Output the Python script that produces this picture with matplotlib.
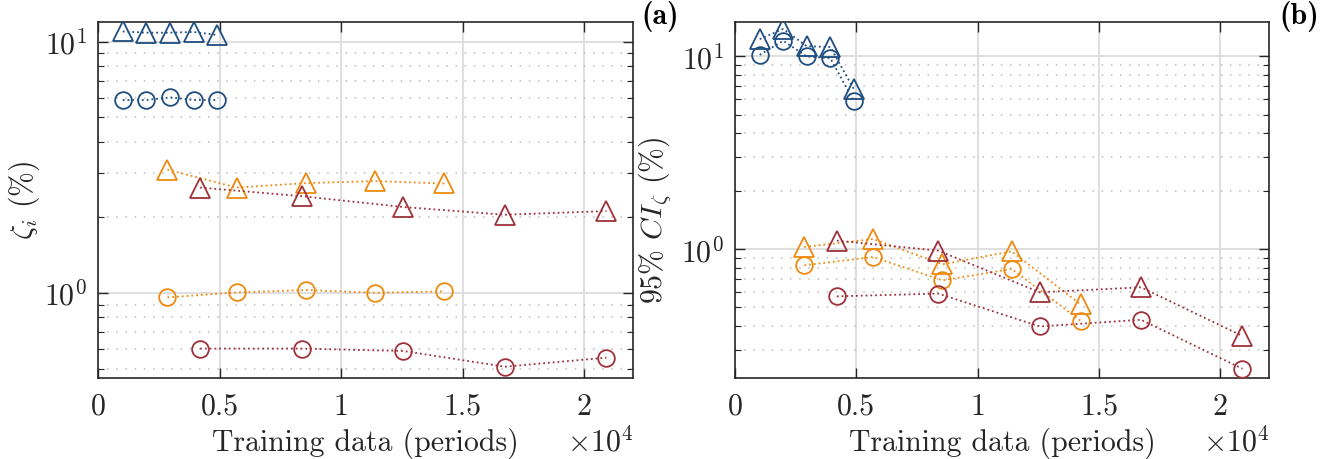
import matplotlib
matplotlib.use('Agg')
import matplotlib.pyplot as plt
from matplotlib.ticker import LogLocator, FixedLocator, FuncFormatter, NullFormatter

plt.rcParams['font.family'] = 'serif'
plt.rcParams['font.serif'] = ['cmr10']
plt.rcParams['mathtext.fontset'] = 'cm'
plt.rcParams['axes.formatter.use_mathtext'] = True

# training data sizes (periods)
x_blue = [1020, 1990, 2960, 3930, 4890]
x_orange = [2860, 5700, 8550, 11400, 14240]
x_red = [4200, 8380, 12560, 16730, 20910]

# (a) damping estimates zeta_i (%)
a_blue_tri = [11.0, 10.88, 10.88, 10.95, 10.66]
a_blue_circ = [5.87, 5.87, 6.01, 5.87, 5.87]
a_orange_tri = [3.10, 2.63, 2.74, 2.79, 2.73]
a_orange_circ = [0.961, 1.006, 1.028, 1.003, 1.015]
a_red_tri = [2.63, 2.43, 2.20, 2.05, 2.12]
a_red_circ = [0.601, 0.601, 0.588, 0.509, 0.553]

# (b) 95% confidence interval width (%)
b_blue_tri = [12.3, 13.9, 11.3, 11.2, 6.8]
b_blue_circ = [10.2, 12.06, 10.0, 9.8, 5.89]
b_orange_tri = [1.028, 1.13, 0.836, 0.976, 0.518]
b_orange_circ = [0.826, 0.912, 0.690, 0.791, 0.426]
b_red_tri = [1.109, 0.984, 0.598, 0.635, 0.355]
b_red_circ = [0.570, 0.589, 0.398, 0.431, 0.240]

c_blue = '#1f4e80'
c_orange = '#ef8a10'
c_red = '#9e313a'
grid_c = '#dcdcdc'
box_c = '#262626'
fs = 21.5

fig = plt.figure(figsize=(13.36, 4.59), dpi=100)
ax1 = fig.add_axes([0.0733, 0.1765, 0.4005, 0.7756])
ax2 = fig.add_axes([0.5501, 0.1765, 0.3997, 0.7756])


def series(ax, x, y, color, marker):
    ax.plot(x, y, ':', color=color, lw=1.3, marker=marker, markersize=14 if marker == '^' else 12,
            markerfacecolor='none', markeredgecolor=color, markeredgewidth=1.3, zorder=3)


def style(ax, ylim):
    ax.set_yscale('log')
    ax.set_xlim(0, 22000)
    ax.set_ylim(*ylim)
    ax.xaxis.set_major_locator(FixedLocator([0, 5000, 10000, 15000, 20000]))
    ax.xaxis.set_major_formatter(FuncFormatter(lambda v, p: '%g' % (v / 1e4)))
    ax.yaxis.set_major_locator(LogLocator(base=10, numticks=10))
    ax.yaxis.set_minor_locator(LogLocator(base=10, subs=range(2, 10), numticks=10))
    ax.yaxis.set_minor_formatter(NullFormatter())
    ax.grid(True, which='major', color=grid_c, lw=1.3, ls='-', zorder=0)
    ax.grid(True, which='minor', axis='y', color='#bdbdbd', lw=1.1, ls=(0, (1, 5)), zorder=0)
    ax.tick_params(which='both', direction='in', top=True, right=True, color=box_c,
                   labelsize=fs, labelcolor='#262626')
    ax.tick_params(which='major', length=7, width=1, pad=8)
    ax.tick_params(axis='x', which='major', pad=11)
    ax.tick_params(which='minor', length=4, width=0.8)
    for s in ax.spines.values():
        s.set_color(box_c)
        s.set_linewidth(1.2)
    ax.set_axisbelow(True)
    ax.set_xlabel('Training data (periods)', fontsize=fs, color='#262626', labelpad=5)
    ax.text(1.0, -0.18, r'$\times 10^4$', transform=ax.transAxes, fontsize=fs,
            ha='right', va='center', color='#262626')


series(ax1, x_blue, a_blue_tri, c_blue, '^')
series(ax1, x_blue, a_blue_circ, c_blue, 'o')
series(ax1, x_orange, a_orange_tri, c_orange, '^')
series(ax1, x_orange, a_orange_circ, c_orange, 'o')
series(ax1, x_red, a_red_tri, c_red, '^')
series(ax1, x_red, a_red_circ, c_red, 'o')
style(ax1, (0.459, 12.0))
ax1.set_ylabel(r'$\zeta_i$ (%)', fontsize=fs, color='#262626')
ax1.yaxis.set_label_coords(-0.105, 0.5)
ax1.text(1.015, 1.015, '(a)', transform=ax1.transAxes, fontsize=fs, family='cmb10',
         ha='left', va='center')

series(ax2, x_blue, b_blue_tri, c_blue, '^')
series(ax2, x_blue, b_blue_circ, c_blue, 'o')
series(ax2, x_orange, b_orange_tri, c_orange, '^')
series(ax2, x_orange, b_orange_circ, c_orange, 'o')
series(ax2, x_red, b_red_tri, c_red, '^')
series(ax2, x_red, b_red_circ, c_red, 'o')
style(ax2, (0.215, 15.1))
ax2.set_ylabel(r'95% $CI_\zeta$ (%)', fontsize=fs, color='#262626')
ax2.yaxis.set_label_coords(-0.116, 0.444)
ax2.text(1.02, 1.015, '(b)', transform=ax2.transAxes, fontsize=fs, family='cmb10',
         ha='left', va='center')

fig.savefig('out.png', dpi=100)
